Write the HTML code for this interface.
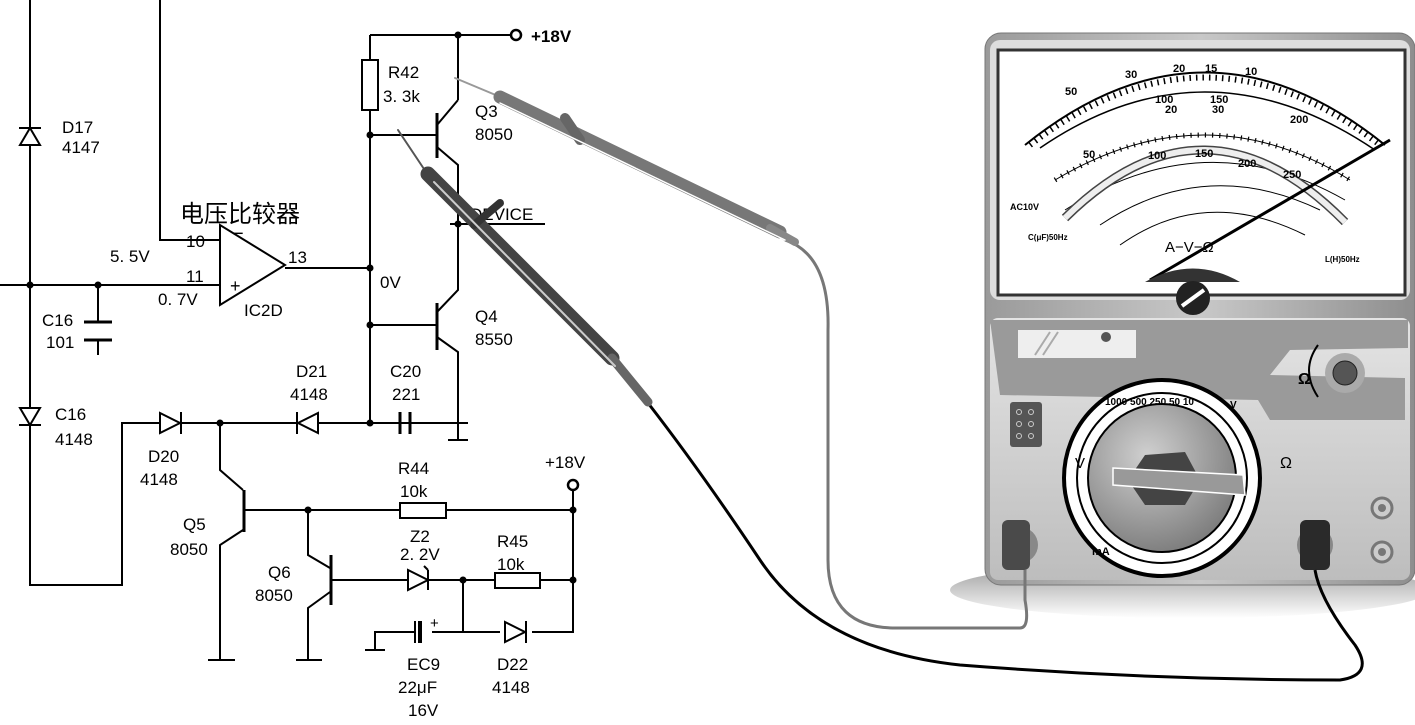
<!DOCTYPE html>
<html><head><meta charset="utf-8"><style>
html,body{margin:0;padding:0;background:#fff;}
svg{display:block;}
text{font-family:"Liberation Sans","Noto Sans CJK SC",sans-serif;fill:#000;}
</style></head><body>
<svg width="1415" height="725" viewBox="0 0 1415 725" xmlns="http://www.w3.org/2000/svg">
<defs>
<linearGradient id="body" x1="0" y1="0" x2="1" y2="0"><stop offset="0" stop-color="#9a9a9a"/><stop offset="0.5" stop-color="#c8c8c8"/><stop offset="1" stop-color="#8e8e8e"/></linearGradient>
<linearGradient id="panel" x1="0" y1="0" x2="0" y2="1"><stop offset="0" stop-color="#e4e4e4"/><stop offset="1" stop-color="#bdbdbd"/></linearGradient>
<radialGradient id="knob" cx="0.4" cy="0.35" r="0.7"><stop offset="0" stop-color="#d0d0d0"/><stop offset="1" stop-color="#7a7a7a"/></radialGradient>
<linearGradient id="shadow" x1="0" y1="0" x2="0" y2="1"><stop offset="0" stop-color="#999"/><stop offset="1" stop-color="#fff"/></linearGradient>
</defs>
<g stroke="#000" stroke-width="2" fill="none">
<path d="M30 0V585H122V423H460"/>
<path d="M160 0V240H222"/>
<path d="M0 285H222"/>
<path d="M98 285V322M98 340V355"/>
<path d="M84 322H112M84 340H112" stroke-width="3"/>
<path d="M285 268H370"/>
<path d="M370 35H510M370 35V423M458 35V100"/>
<path d="M370 135H436M370 325H436"/>
<path d="M437 113V158M437 303V350" stroke-width="3"/>
<path d="M437 125L458 100M437 147L458 165V290L437 312M437 337L458 352V423"/>
<path d="M448 423H468"/>
<path d="M458 423V440M448 440H468"/>
<path d="M450 224H545"/>
<path d="M220 423V470L243 490M243 530L220 545V660M208 660H235"/>
<path d="M244 490V532" stroke-width="3"/>
<path d="M244 510H573M573 490V632H532M500 632H432M415 632H375V650M365 650H385"/>
<path d="M308 510V555L330 568M330 592L308 608V660M296 660H322"/>
<path d="M331 555V605" stroke-width="3"/>
<path d="M331 580H573M463 580V632"/>
</g>
<g stroke="#000" stroke-width="2" fill="#fff">
<rect x="362" y="60" width="16" height="50"/>
<rect x="400" y="503" width="46" height="15"/>
<rect x="495" y="573" width="45" height="15"/>
</g>
<g fill="#000" stroke="#000" stroke-width="2">
<path d="M30 128L20 145H40Z" fill="#fff"/><path d="M19 128H41"/>
<path d="M20 408H40L30 425Z" fill="#fff"/><path d="M19 425H41"/>
<path d="M160 413V433L180 423Z" fill="#fff"/><path d="M181 412V434"/>
<path d="M318 413V433L298 423Z" fill="#fff"/><path d="M297 412V434"/>
<path d="M408 570V590L428 580Z" fill="#fff"/><path d="M428 570V590M428 570L424 566"/>
<path d="M505 622V642L525 632Z" fill="#fff"/><path d="M526 621V643"/>
<path d="M220 225V305L285 265Z" fill="#fff"/>
<path d="M400 412V434M410 412V434" stroke-width="3"/>
<path d="M415 621V643" stroke-width="2"/><path d="M420 621V643" stroke-width="4"/>
</g>
<g fill="#000">
<circle cx="370" cy="135" r="3.5"/><circle cx="370" cy="268" r="3.5"/><circle cx="370" cy="325" r="3.5"/>
<circle cx="370" cy="423" r="3.5"/><circle cx="458" cy="35" r="3.5"/><circle cx="458" cy="224" r="3.5"/>
<circle cx="30" cy="285" r="3.5"/><circle cx="98" cy="285" r="3.5"/><circle cx="220" cy="423" r="3.5"/>
<circle cx="308" cy="510" r="3.5"/><circle cx="573" cy="510" r="3.5"/><circle cx="463" cy="580" r="3.5"/><circle cx="573" cy="580" r="3.5"/>
</g>
<circle cx="516" cy="35" r="5" fill="#fff" stroke="#000" stroke-width="2.5"/>
<circle cx="573" cy="485" r="5" fill="#fff" stroke="#000" stroke-width="2.5"/>
<g font-size="17">
<text x="531" y="42" font-weight="bold">+18V</text>
<text x="388" y="78">R42</text><text x="383" y="102">3. 3k</text>
<text x="475" y="117">Q3</text><text x="475" y="140">8050</text>
<text x="475" y="322">Q4</text><text x="475" y="345">8550</text>
<text x="470" y="220">DEVICE</text>
<text x="380" y="288">0V</text>
<text x="62" y="133">D17</text><text x="62" y="153">4147</text>
<text x="180" y="222" font-size="24" font-family="Noto Serif CJK SC,serif">电压比较器</text>
<text x="186" y="247">10</text><text x="186" y="282">11</text><text x="288" y="263">13</text>
<text x="110" y="262">5. 5V</text><text x="158" y="305">0. 7V</text>
<text x="244" y="316">IC2D</text>
<text x="42" y="326">C16</text><text x="46" y="348">101</text>
<text x="55" y="420">C16</text><text x="55" y="445">4148</text>
<text x="148" y="462">D20</text><text x="140" y="485">4148</text>
<text x="296" y="377">D21</text><text x="290" y="400">4148</text>
<text x="390" y="377">C20</text><text x="392" y="400">221</text>
<text x="545" y="468">+18V</text>
<text x="398" y="474">R44</text><text x="400" y="497">10k</text>
<text x="183" y="530">Q5</text><text x="170" y="555">8050</text>
<text x="268" y="578">Q6</text><text x="255" y="601">8050</text>
<text x="410" y="542">Z2</text><text x="400" y="560">2. 2V</text>
<text x="497" y="547">R45</text><text x="497" y="570">10k</text>
<text x="430" y="628" font-size="15">+</text>
<text x="407" y="670">EC9</text><text x="398" y="693">22μF</text><text x="408" y="716">16V</text>
<text x="497" y="670">D22</text><text x="492" y="693">4148</text>
<text x="232" y="240" font-size="20">−</text><text x="230" y="292" font-size="18">+</text>
</g>
<!-- multimeter -->
<ellipse cx="1190" cy="590" rx="240" ry="28" fill="url(#shadow)"/>
<rect x="985" y="33" width="430" height="552" rx="16" fill="url(#body)" stroke="#777"/>
<rect x="990" y="40" width="420" height="260" rx="10" fill="#ddd"/>
<rect x="998" y="50" width="407" height="245" fill="#fff" stroke="#333" stroke-width="3"/>
<g fill="none" stroke="#000">
<path d="M1025 145Q1205 0 1385 145" stroke-width="2"/>
<path d="M1040 148Q1205 35 1375 150" stroke-width="1.5"/>
<path d="M1055 180Q1205 90 1350 180" stroke-width="1"/>
<path d="M1065 210Q1205 120 1345 200" stroke-width="1"/>
<path d="M1100 225Q1205 155 1320 210" stroke-width="1"/>
<path d="M1120 245Q1205 185 1305 235" stroke-width="1"/>
<path d="M1065 218Q1205 80 1345 222" stroke="#444" stroke-width="9"/>
<path d="M1065 218Q1205 80 1345 222" stroke="#eee" stroke-width="6"/>
<path d="M1030 145Q1205 10 1380 145" stroke-width="6" stroke-dasharray="1.5 5"/>
<path d="M1055 180Q1205 90 1350 180" stroke-width="5" stroke-dasharray="1.2 6"/>
<path d="M1150 280L1390 140" stroke-width="3"/>
</g>
<path d="M1145 282Q1193 255 1240 282Z" fill="#333"/>
<circle cx="1193" cy="298" r="17" fill="#222"/><path d="M1182 306L1204 290" stroke="#fff" stroke-width="4"/>
<g font-size="11" font-weight="bold">
<text x="1125" y="78">30</text><text x="1173" y="72">20</text><text x="1205" y="72">15</text><text x="1245" y="75">10</text>
<text x="1065" y="95">50</text><text x="1155" y="103">100</text><text x="1165" y="113">20</text>
<text x="1210" y="103">150</text><text x="1212" y="113">30</text><text x="1290" y="123">200</text>
<text x="1083" y="158">50</text><text x="1148" y="159">100</text><text x="1195" y="157">150</text><text x="1238" y="167">200</text><text x="1283" y="178">250</text>
<text x="1010" y="210" font-size="9">AC10V</text><text x="1028" y="240" font-size="8">C(μF)50Hz</text><text x="1325" y="262" font-size="8">L(H)50Hz</text>
<text x="1165" y="252" font-size="15" font-weight="normal">A−V−Ω</text>
</g>
<rect x="990" y="318" width="420" height="262" rx="8" fill="url(#panel)"/>
<path d="M990 320H1408V348L1290 350L1270 375L1405 378V420H1270L1258 400L1000 395Z" fill="#9a9a9a"/>
<rect x="1018" y="330" width="118" height="28" fill="#eee"/>
<path d="M1035 355L1050 332M1043 355L1058 332" stroke="#aaa" stroke-width="2"/>
<circle cx="1106" cy="337" r="5" fill="#555"/>
<circle cx="1345" cy="373" r="20" fill="#aaa"/><circle cx="1345" cy="373" r="12" fill="#555" stroke="#222"/>
<text x="1298" y="384" font-size="16" font-weight="bold">Ω</text>
<path d="M1318 345Q1300 370 1318 397" stroke="#000" stroke-width="2" fill="none"/>
<rect x="1010" y="402" width="32" height="45" rx="3" fill="#555"/>
<g fill="none" stroke="#ccc"><circle cx="1019" cy="412" r="2.5"/><circle cx="1031" cy="412" r="2.5"/><circle cx="1019" cy="424" r="2.5"/><circle cx="1031" cy="424" r="2.5"/><circle cx="1019" cy="436" r="2.5"/><circle cx="1031" cy="436" r="2.5"/></g>
<circle cx="1162" cy="478" r="98" fill="#fff" stroke="#000" stroke-width="4"/>
<circle cx="1162" cy="478" r="85" fill="none" stroke="#000" stroke-width="2"/>
<circle cx="1162" cy="478" r="74" fill="url(#knob)" stroke="#000" stroke-width="2"/>
<path d="M1145 455L1185 452L1200 480L1185 505L1145 505L1128 480Z" fill="#444"/>
<path d="M1113 468L1243 475L1245 495L1113 485Z" fill="#999" stroke="#fff" stroke-width="1.5"/>
<g font-size="10" font-weight="bold">
<text x="1105" y="405">1000 500 250 50 10</text>
<text x="1075" y="468" font-size="15" font-weight="normal">V</text>
<text x="1280" y="468" font-size="16" font-weight="normal">Ω</text>
<text x="1092" y="555" font-size="11">mA</text>
<text x="1230" y="408">V</text>
</g>
<circle cx="1382" cy="508" r="10" fill="#ccc" stroke="#777" stroke-width="3"/><circle cx="1382" cy="508" r="4" fill="#777"/>
<circle cx="1382" cy="552" r="10" fill="#ccc" stroke="#777" stroke-width="3"/><circle cx="1382" cy="552" r="4" fill="#777"/>
<circle cx="1020" cy="545" r="18" fill="#888"/><rect x="1002" y="520" width="28" height="50" rx="6" fill="#4a4a4a"/>
<circle cx="1315" cy="545" r="18" fill="#888"/><rect x="1300" y="520" width="30" height="50" rx="6" fill="#2a2a2a"/>
<!-- cables -->
<path d="M785 240Q830 255 828 330V560Q828 630 900 628H1020Q1030 628 1025 600V570" stroke="#777" stroke-width="3" fill="none"/>
<path d="M648 403Q700 470 760 560Q820 650 960 665Q1150 680 1340 680Q1375 675 1355 645Q1320 600 1315 570" stroke="#000" stroke-width="3" fill="none"/>
<!-- gray probe -->
<g stroke-linecap="round">
<path d="M455 78L498 96" stroke="#999" stroke-width="2"/>
<path d="M500 97L780 232" stroke="#777" stroke-width="13"/>
<path d="M770 228L795 242" stroke="#888" stroke-width="8"/>
<path d="M565 118L580 140" stroke="#666" stroke-width="10"/>
<path d="M500 103L785 240" stroke="#fff" stroke-width="1.5"/>
<!-- black probe -->
<path d="M398 130L426 172" stroke="#555" stroke-width="2"/>
<path d="M428 174L612 358" stroke="#444" stroke-width="15"/>
<path d="M612 358L648 402" stroke="#666" stroke-width="9"/>
<path d="M474 225L500 203" stroke="#333" stroke-width="8"/>
<path d="M434 182L615 366" stroke="#ccc" stroke-width="2"/>
</g>
</svg>
</body></html>
